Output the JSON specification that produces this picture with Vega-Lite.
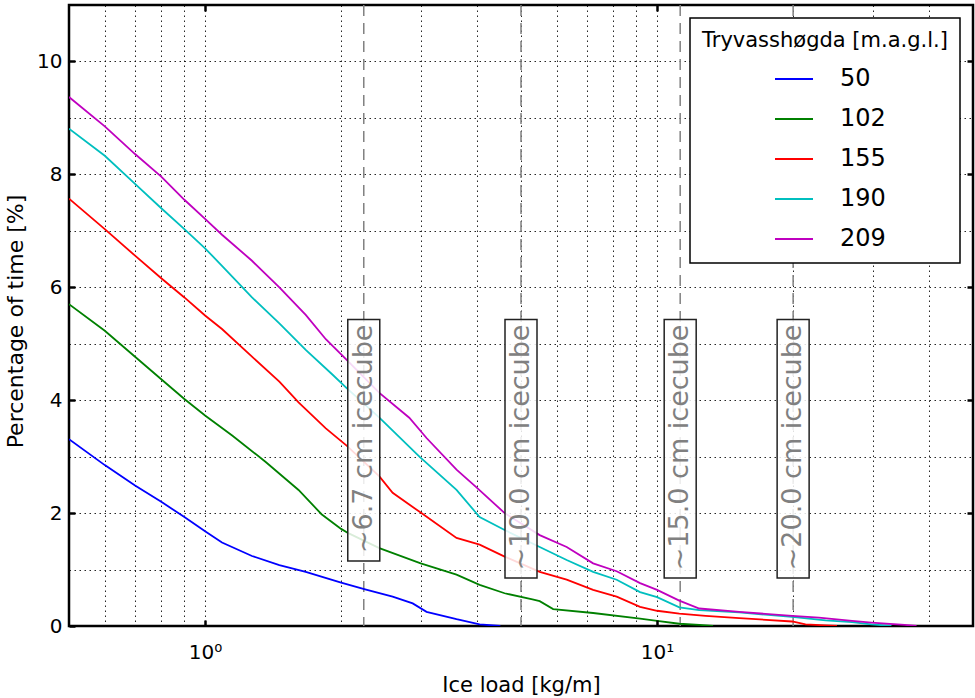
{
  "$schema": "https://vega.github.io/schema/vega-lite/v6.json",
  "width": 904,
  "height": 621,
  "autosize": {"type": "none"},
  "padding": {"left": 69, "top": 5, "right": 2, "bottom": 72},
  "background": "white",
  "config": {
    "font": "DejaVu Sans",
    "view": {"stroke": "black", "strokeWidth": 2.5},
    "legend": {"strokeWidth": 1.5}
  },
  "resolve": {"axis": {"x": "independent", "y": "independent"}},
  "datasets": {
    "curves": [
      {"load": 0.5, "pct": 3.31, "elev": "50"}, {"load": 0.6, "pct": 2.85, "elev": "50"}, {"load": 0.7, "pct": 2.49, "elev": "50"}, {"load": 0.8, "pct": 2.2, "elev": "50"}, {"load": 0.9, "pct": 1.93, "elev": "50"}, {"load": 1.0, "pct": 1.68, "elev": "50"}, {"load": 1.09, "pct": 1.48, "elev": "50"}, {"load": 1.27, "pct": 1.24, "elev": "50"}, {"load": 1.46, "pct": 1.08, "elev": "50"}, {"load": 1.67, "pct": 0.96, "elev": "50"}, {"load": 2.0, "pct": 0.77, "elev": "50"}, {"load": 2.26, "pct": 0.65, "elev": "50"}, {"load": 2.6, "pct": 0.52, "elev": "50"}, {"load": 2.88, "pct": 0.4, "elev": "50"}, {"load": 3.09, "pct": 0.25, "elev": "50"}, {"load": 3.6, "pct": 0.12, "elev": "50"}, {"load": 4.05, "pct": 0.03, "elev": "50"}, {"load": 4.5, "pct": 0, "elev": "50"},
      {"load": 0.5, "pct": 5.7, "elev": "102"}, {"load": 0.6, "pct": 5.23, "elev": "102"}, {"load": 0.7, "pct": 4.77, "elev": "102"}, {"load": 0.8, "pct": 4.37, "elev": "102"}, {"load": 0.9, "pct": 4.02, "elev": "102"}, {"load": 1.0, "pct": 3.73, "elev": "102"}, {"load": 1.15, "pct": 3.37, "elev": "102"}, {"load": 1.36, "pct": 2.91, "elev": "102"}, {"load": 1.61, "pct": 2.41, "elev": "102"}, {"load": 1.81, "pct": 1.98, "elev": "102"}, {"load": 2.0, "pct": 1.72, "elev": "102"}, {"load": 2.08, "pct": 1.64, "elev": "102"}, {"load": 2.43, "pct": 1.38, "elev": "102"}, {"load": 3.0, "pct": 1.11, "elev": "102"}, {"load": 3.6, "pct": 0.91, "elev": "102"}, {"load": 4.05, "pct": 0.73, "elev": "102"}, {"load": 4.6, "pct": 0.58, "elev": "102"}, {"load": 5.3, "pct": 0.47, "elev": "102"}, {"load": 5.5, "pct": 0.44, "elev": "102"}, {"load": 5.89, "pct": 0.3, "elev": "102"}, {"load": 7.22, "pct": 0.23, "elev": "102"}, {"load": 9.17, "pct": 0.13, "elev": "102"}, {"load": 10, "pct": 0.09, "elev": "102"}, {"load": 11.2, "pct": 0.04, "elev": "102"}, {"load": 12.4, "pct": 0.02, "elev": "102"}, {"load": 13.3, "pct": 0, "elev": "102"},
      {"load": 0.5, "pct": 7.57, "elev": "155"}, {"load": 0.6, "pct": 7.03, "elev": "155"}, {"load": 0.7, "pct": 6.56, "elev": "155"}, {"load": 0.8, "pct": 6.16, "elev": "155"}, {"load": 0.9, "pct": 5.82, "elev": "155"}, {"load": 1.0, "pct": 5.5, "elev": "155"}, {"load": 1.09, "pct": 5.26, "elev": "155"}, {"load": 1.27, "pct": 4.77, "elev": "155"}, {"load": 1.46, "pct": 4.33, "elev": "155"}, {"load": 1.61, "pct": 3.96, "elev": "155"}, {"load": 1.85, "pct": 3.5, "elev": "155"}, {"load": 2.06, "pct": 3.19, "elev": "155"}, {"load": 2.43, "pct": 2.65, "elev": "155"}, {"load": 2.6, "pct": 2.36, "elev": "155"}, {"load": 3.01, "pct": 2.0, "elev": "155"}, {"load": 3.6, "pct": 1.56, "elev": "155"}, {"load": 4.05, "pct": 1.44, "elev": "155"}, {"load": 4.6, "pct": 1.23, "elev": "155"}, {"load": 5.5, "pct": 0.96, "elev": "155"}, {"load": 6.31, "pct": 0.82, "elev": "155"}, {"load": 7.22, "pct": 0.64, "elev": "155"}, {"load": 8.14, "pct": 0.52, "elev": "155"}, {"load": 9.17, "pct": 0.34, "elev": "155"}, {"load": 10, "pct": 0.27, "elev": "155"}, {"load": 11.2, "pct": 0.22, "elev": "155"}, {"load": 12.8, "pct": 0.18, "elev": "155"}, {"load": 15.2, "pct": 0.14, "elev": "155"}, {"load": 19.9, "pct": 0.08, "elev": "155"}, {"load": 21.3, "pct": 0.03, "elev": "155"}, {"load": 23.6, "pct": 0.01, "elev": "155"}, {"load": 25, "pct": 0, "elev": "155"},
      {"load": 0.5, "pct": 8.81, "elev": "190"}, {"load": 0.6, "pct": 8.33, "elev": "190"}, {"load": 0.7, "pct": 7.83, "elev": "190"}, {"load": 0.8, "pct": 7.4, "elev": "190"}, {"load": 0.9, "pct": 7.03, "elev": "190"}, {"load": 1.0, "pct": 6.69, "elev": "190"}, {"load": 1.09, "pct": 6.38, "elev": "190"}, {"load": 1.27, "pct": 5.82, "elev": "190"}, {"load": 1.46, "pct": 5.36, "elev": "190"}, {"load": 1.67, "pct": 4.89, "elev": "190"}, {"load": 1.91, "pct": 4.46, "elev": "190"}, {"load": 2.06, "pct": 4.21, "elev": "190"}, {"load": 2.43, "pct": 3.69, "elev": "190"}, {"load": 2.98, "pct": 3.0, "elev": "190"}, {"load": 3.6, "pct": 2.41, "elev": "190"}, {"load": 4.05, "pct": 1.93, "elev": "190"}, {"load": 4.6, "pct": 1.7, "elev": "190"}, {"load": 5.5, "pct": 1.4, "elev": "190"}, {"load": 6.31, "pct": 1.17, "elev": "190"}, {"load": 7.22, "pct": 0.96, "elev": "190"}, {"load": 8.14, "pct": 0.82, "elev": "190"}, {"load": 9.17, "pct": 0.6, "elev": "190"}, {"load": 10, "pct": 0.51, "elev": "190"}, {"load": 11.2, "pct": 0.33, "elev": "190"}, {"load": 12.4, "pct": 0.28, "elev": "190"}, {"load": 15.2, "pct": 0.24, "elev": "190"}, {"load": 19.9, "pct": 0.16, "elev": "190"}, {"load": 23.6, "pct": 0.1, "elev": "190"}, {"load": 27, "pct": 0.07, "elev": "190"}, {"load": 29.8, "pct": 0.03, "elev": "190"}, {"load": 31.9, "pct": 0.01, "elev": "190"}, {"load": 33, "pct": 0, "elev": "190"},
      {"load": 0.5, "pct": 9.37, "elev": "209"}, {"load": 0.6, "pct": 8.85, "elev": "209"}, {"load": 0.7, "pct": 8.36, "elev": "209"}, {"load": 0.8, "pct": 7.96, "elev": "209"}, {"load": 0.9, "pct": 7.55, "elev": "209"}, {"load": 1.0, "pct": 7.21, "elev": "209"}, {"load": 1.09, "pct": 6.93, "elev": "209"}, {"load": 1.27, "pct": 6.47, "elev": "209"}, {"load": 1.46, "pct": 6.0, "elev": "209"}, {"load": 1.67, "pct": 5.51, "elev": "209"}, {"load": 1.85, "pct": 5.08, "elev": "209"}, {"load": 2.06, "pct": 4.71, "elev": "209"}, {"load": 2.43, "pct": 4.13, "elev": "209"}, {"load": 2.83, "pct": 3.69, "elev": "209"}, {"load": 3.09, "pct": 3.33, "elev": "209"}, {"load": 3.6, "pct": 2.77, "elev": "209"}, {"load": 3.98, "pct": 2.46, "elev": "209"}, {"load": 4.6, "pct": 2.0, "elev": "209"}, {"load": 5.5, "pct": 1.61, "elev": "209"}, {"load": 6.31, "pct": 1.4, "elev": "209"}, {"load": 7.22, "pct": 1.11, "elev": "209"}, {"load": 8.14, "pct": 0.97, "elev": "209"}, {"load": 9.17, "pct": 0.76, "elev": "209"}, {"load": 10, "pct": 0.64, "elev": "209"}, {"load": 11.2, "pct": 0.45, "elev": "209"}, {"load": 12.4, "pct": 0.31, "elev": "209"}, {"load": 15.2, "pct": 0.25, "elev": "209"}, {"load": 19.9, "pct": 0.18, "elev": "209"}, {"load": 22.8, "pct": 0.15, "elev": "209"}, {"load": 27, "pct": 0.09, "elev": "209"}, {"load": 29.8, "pct": 0.06, "elev": "209"}, {"load": 35.3, "pct": 0.02, "elev": "209"}, {"load": 37.5, "pct": 0, "elev": "209"}
    ],
    "cubes": [
      {"label": "~6.7 cm icecube", "load": 2.2445, "box_bottom": 1.15},
      {"label": "~10.0 cm icecube", "load": 5.0, "box_bottom": 0.85},
      {"label": "~15.0 cm icecube", "load": 11.25, "box_bottom": 0.85},
      {"label": "~20.0 cm icecube", "load": 20.0, "box_bottom": 0.85}
    ]
  },
  "layer": [
    {
      "data": {"name": "cubes"},
      "mark": {"type": "rule", "opacity": 0},
      "encoding": {
        "x": {
          "field": "load",
          "type": "quantitative",
          "scale": {"type": "log", "domain": [0.5, 50], "nice": false},
          "axis": {"orient": "bottom", "values": [0.6, 0.7, 0.8, 0.9, 1, 2, 3, 4, 5, 6, 7, 8, 9, 10, 20, 30, 40], "grid": true, "gridColor": "black", "gridDash": [1.5, 3.5], "gridWidth": 1, "gridOpacity": 0.85, "labels": false, "ticks": false, "domain": false, "title": null}
        },
        "y": {
          "field": "box_bottom",
          "type": "quantitative",
          "scale": {"domain": [0, 11], "nice": false, "zero": true},
          "axis": {"orient": "left", "values": [1, 2, 3, 4, 5, 6, 7, 8, 9, 10], "grid": true, "gridColor": "black", "gridDash": [1.5, 3.5], "gridWidth": 1, "gridOpacity": 0.85, "labels": false, "ticks": false, "domain": false, "title": null}
        }
      }
    },
    {
      "data": {"name": "cubes"},
      "mark": {"type": "rule", "color": "#808080", "strokeWidth": 1.5, "strokeDash": [11, 7]},
      "encoding": {
        "x": {
          "field": "load",
          "type": "quantitative",
          "axis": {
            "orient": "bottom",
            "title": "Ice load [kg/m]",
            "values": [1, 10],
            "labelExpr": "datum.value == 1 ? '10\u2070' : '10\u00b9'",
            "grid": false,
            "domain": false,
            "offset": -6,
            "ticks": true,
            "tickSize": 6,
            "tickWidth": 2.5,
            "tickColor": "black",
            "labelFontSize": 20,
            "labelColor": "black",
            "labelPadding": 16,
            "labelFlush": false,
            "labelOverlap": false,
            "titleFontSize": 21,
            "titleFontWeight": "normal",
            "titleColor": "black",
            "titleY": 65,
            "titleBaseline": "middle",
            "zindex": 1
          }
        }
      }
    },
    {
      "data": {"name": "curves"},
      "mark": {"type": "line", "strokeWidth": 1.8, "clip": true},
      "encoding": {
        "x": {"field": "load", "type": "quantitative", "axis": null},
        "y": {
          "field": "pct",
          "type": "quantitative",
          "axis": {
            "orient": "left",
            "title": "Percentage of time [%]",
            "values": [0, 2, 4, 6, 8, 10],
            "format": "d",
            "grid": false,
            "domain": false,
            "offset": -6,
            "ticks": true,
            "tickSize": 6,
            "tickWidth": 2.5,
            "tickColor": "black",
            "labelFontSize": 20,
            "labelColor": "black",
            "labelPadding": 7,
            "labelFlush": false,
            "labelOverlap": false,
            "titleFontSize": 22,
            "titleFontWeight": "normal",
            "titleColor": "black",
            "titleX": -60,
            "titleY": 316,
            "titleAngle": 270,
            "titleAlign": "center",
            "titleBaseline": "middle",
            "zindex": 1
          }
        },
        "color": {
          "field": "elev",
          "type": "nominal",
          "scale": {"domain": ["50", "102", "155", "190", "209"], "range": ["#0000ff", "#008000", "#ff0000", "#00bfbf", "#bf00bf"]},
          "legend": {
            "title": "Tryvassh\u00f8gda [m.a.g.l.]",
            "orient": "none",
            "legendX": 621,
            "legendY": 13,
            "fillColor": "white",
            "strokeColor": "black",
            "padding": 12,
            "titleFontSize": 21,
            "titleFontWeight": "normal",
            "titleColor": "black",
            "titleLimit": 400,
            "titlePadding": 8,
            "labelFontSize": 24,
            "labelColor": "black",
            "labelOffset": 26,
            "symbolType": "stroke",
            "symbolSize": 1444,
            "symbolStrokeWidth": 2,
            "symbolOffset": 72,
            "rowPadding": 8
          }
        }
      }
    },
    {
      "data": {"name": "cubes"},
      "mark": {"type": "rule", "opacity": 0},
      "encoding": {
        "x": {
          "field": "load",
          "type": "quantitative",
          "axis": {"orient": "top", "values": [1, 10], "labels": false, "grid": false, "domain": false, "ticks": true, "offset": -6, "tickSize": 6, "tickWidth": 2.5, "tickColor": "black", "title": null, "zindex": 1}
        },
        "y": {
          "field": "box_bottom",
          "type": "quantitative",
          "axis": {"orient": "right", "values": [2, 4, 6, 8, 10], "labels": false, "grid": false, "domain": false, "ticks": true, "offset": -6, "tickSize": 6, "tickWidth": 2.5, "tickColor": "black", "title": null, "zindex": 1}
        }
      }
    },
    {
      "data": {"name": "cubes"},
      "mark": {"type": "rect", "fill": "white", "fillOpacity": 0.85, "stroke": "#222222", "strokeWidth": 1.5, "xOffset": -16, "x2Offset": 16},
      "encoding": {
        "x": {"field": "load", "type": "quantitative", "axis": null},
        "x2": {"field": "load"},
        "y": {"field": "box_bottom", "type": "quantitative", "axis": null},
        "y2": {"datum": 5.43}
      }
    },
    {
      "data": {"name": "cubes"},
      "mark": {"type": "text", "angle": 270, "align": "right", "baseline": "middle", "fontSize": 27, "color": "#808080", "font": "DejaVu Sans"},
      "encoding": {
        "x": {"field": "load", "type": "quantitative", "axis": null},
        "y": {"datum": 5.34, "type": "quantitative", "axis": null},
        "text": {"field": "label"}
      }
    }
  ]
}
